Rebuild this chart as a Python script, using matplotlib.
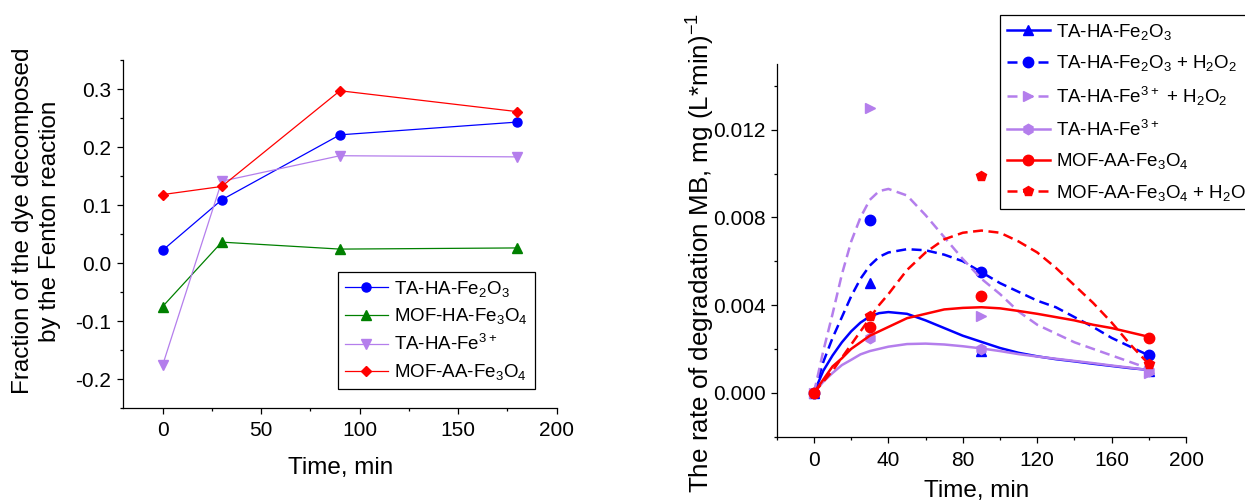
import matplotlib
matplotlib.use('Agg')
import matplotlib.pyplot as plt
from matplotlib.ticker import MultipleLocator, FormatStrFormatter
from matplotlib.lines import Line2D

plt.rcParams['font.family'] = ['Liberation Sans', 'DejaVu Sans']
plt.rcParams['mathtext.default'] = 'regular'
plt.rcParams['axes.unicode_minus'] = False

# ---- left panel data: fraction decomposed by Fenton reaction
time_left = [0, 30, 90, 180]
ta_ha_fe2o3 = [0.022, 0.109, 0.221, 0.243]
mof_ha_fe3o4 = [-0.075, 0.036, 0.024, 0.026]
ta_ha_fe3 = [-0.176, 0.141, 0.185, 0.183]
mof_aa_fe3o4 = [0.118, 0.132, 0.297, 0.261]

# ---- right panel data: measured rates
time_pts = [0, 30, 90, 180]
r_fe2o3 = [0.0, 0.0050, 0.0019, 0.0010]
r_fe2o3_h2o2 = [0.0, 0.0079, 0.0055, 0.0017]
r_fe3_h2o2 = [0.0, 0.0130, 0.0035, 0.0009]
r_fe3 = [0.0, 0.0025, 0.0020, 0.0010]
r_mof = [0.0, 0.0030, 0.0044, 0.0025]
r_mof_h2o2 = [0.0, 0.0035, 0.0099, 0.0013]

# fitted curves
time_fit = [0, 5, 10, 15, 20, 25, 30, 35, 40, 50, 60, 70, 80, 90,
            100, 110, 120, 130, 140, 150, 160, 170, 180]
fit_fe2o3 = [0, 0.0010, 0.0017, 0.0023, 0.0028, 0.0032, 0.00348, 0.00363, 0.00368,
             0.0036, 0.0033, 0.00295, 0.0026, 0.00232, 0.00204, 0.00182, 0.00166,
             0.00153, 0.00143, 0.00132, 0.00122, 0.00112, 0.00104]
fit_fe2o3_h2o2 = [0, 0.0014, 0.0025, 0.00345, 0.0044, 0.0052, 0.0058, 0.0062, 0.0064,
                  0.00655, 0.0065, 0.0063, 0.0060, 0.0055, 0.0050, 0.0046, 0.0042,
                  0.0039, 0.00345, 0.0030, 0.0025, 0.0021, 0.0017]
fit_fe3_h2o2 = [0, 0.0019, 0.0036, 0.0054, 0.0069, 0.0080, 0.0088, 0.0092, 0.0093,
                0.0090, 0.0081, 0.0071, 0.0061, 0.0052, 0.0045, 0.0037, 0.0031,
                0.0027, 0.0023, 0.0020, 0.0017, 0.0014, 0.0011]
fit_fe3 = [0, 0.0005, 0.0009, 0.00126, 0.0015, 0.00175, 0.0019, 0.0020, 0.0021,
           0.00222, 0.00224, 0.0022, 0.00212, 0.00202, 0.0019, 0.00176, 0.00165,
           0.00155, 0.00145, 0.00135, 0.00124, 0.00114, 0.00103]
fit_mof = [0, 0.0006, 0.0012, 0.00157, 0.0020, 0.0023, 0.0026, 0.0028, 0.0030,
           0.0034, 0.0036, 0.0038, 0.00387, 0.0039, 0.00385, 0.00373, 0.0036,
           0.00345, 0.0033, 0.0031, 0.00295, 0.00275, 0.00255]
fit_mof_h2o2 = [0, 0.0005, 0.0010, 0.0016, 0.0022, 0.0028, 0.0034, 0.0040, 0.0045,
                0.0056, 0.0064, 0.0070, 0.0073, 0.0074, 0.0073, 0.0069, 0.0064,
                0.0057, 0.0049, 0.0041, 0.0032, 0.0022, 0.0013]

BLUE = '#0000FF'
GREEN = '#008000'
VIOLET = '#B47EEC'
RED = '#FF0000'

fig = plt.figure(figsize=(12.45, 5.01), dpi=100)
ax1 = fig.add_axes([0.0990, 0.1856, 0.3481, 0.6946])
ax2 = fig.add_axes([0.6239, 0.1287, 0.3288, 0.7435])

for ax in (ax1, ax2):
    ax.spines['top'].set_visible(False)
    ax.spines['right'].set_visible(False)
    ax.spines['left'].set_linewidth(0.9)
    ax.spines['bottom'].set_linewidth(0.9)
    ax.tick_params(which='major', direction='out', length=4.5, width=0.9, labelsize=15)
    ax.tick_params(which='minor', direction='out', length=2.5, width=0.9)

# ---- left panel
ax1.plot(time_left, ta_ha_fe2o3, color=BLUE, marker='o', ms=6.5, lw=0.9, label='TA-HA-Fe$_2$O$_3$')
ax1.plot(time_left, mof_ha_fe3o4, color=GREEN, marker='^', ms=7, lw=0.9, label='MOF-HA-Fe$_3$O$_4$')
ax1.plot(time_left, ta_ha_fe3, color=VIOLET, marker='v', ms=7, lw=0.9, label='TA-HA-Fe$^{3+}$')
ax1.plot(time_left, mof_aa_fe3o4, color=RED, marker='D', ms=5.5, lw=0.9, label='MOF-AA-Fe$_3$O$_4$')

ax1.set_xlim(-20, 200)
ax1.set_ylim(-0.25, 0.35)
ax1.xaxis.set_major_locator(MultipleLocator(50))
ax1.xaxis.set_minor_locator(MultipleLocator(25))
ax1.yaxis.set_major_locator(MultipleLocator(0.1))
ax1.yaxis.set_minor_locator(MultipleLocator(0.05))
ax1.yaxis.set_major_formatter(FormatStrFormatter('%.1f'))
ax1.tick_params(axis='x', pad=5)
ax1.tick_params(axis='y', pad=4)

ax1.set_xlabel('Time, min', fontsize=17.5, va='center')
ax1.xaxis.set_label_coords(0.502, -0.172)
ax1.set_ylabel('Fraction of the dye decomposed\nby the Fenton reaction', fontsize=17.5,
               va='center', linespacing=1.3)
ax1.yaxis.set_label_coords(-0.201, 0.537)

leg1 = ax1.legend(loc='upper left', bbox_to_anchor=(338 / 1245, (501 - 272) / 501),
                  bbox_transform=fig.transFigure, fontsize=13.5, frameon=True,
                  fancybox=False, framealpha=1, edgecolor='black', borderpad=0.35,
                  labelspacing=0.42, handlelength=2.3, handletextpad=0.35,
                  borderaxespad=0)
leg1.get_frame().set_linewidth(0.9)

# ---- right panel
series = [
    ('TA-HA-Fe$_2$O$_3$', r_fe2o3, fit_fe2o3, BLUE, '-', '^'),
    ('TA-HA-Fe$_2$O$_3$ + H$_2$O$_2$', r_fe2o3_h2o2, fit_fe2o3_h2o2, BLUE, '--', 'o'),
    ('TA-HA-Fe$^{3+}$ + H$_2$O$_2$', r_fe3_h2o2, fit_fe3_h2o2, VIOLET, '--', '>'),
    ('TA-HA-Fe$^{3+}$', r_fe3, fit_fe3, VIOLET, '-', 'h'),
    ('MOF-AA-Fe$_3$O$_4$', r_mof, fit_mof, RED, '-', 'o'),
    ('MOF-AA-Fe$_3$O$_4$ + H$_2$O$_2$', r_mof_h2o2, fit_mof_h2o2, RED, '--', 'p'),
]

handles = []
for label, pts, fit, col, ls, mk in series:
    if ls == '--':
        ax2.plot(time_fit, fit, color=col, lw=1.8, dashes=(4, 2.2))
    else:
        ax2.plot(time_fit, fit, color=col, lw=1.8)
    ax2.plot(time_pts, pts, color=col, marker=mk, ms=7.5, ls='none')
    h = Line2D([], [], color=col, lw=1.8, marker=mk, ms=7.5)
    if ls == '--':
        h.set_dashes((4, 2.2))
    handles.append((h, label))

ax2.set_xlim(-20, 200)
ax2.set_ylim(-0.002, 0.015)
ax2.xaxis.set_major_locator(MultipleLocator(40))
ax2.xaxis.set_minor_locator(MultipleLocator(20))
ax2.yaxis.set_major_locator(MultipleLocator(0.004))
ax2.yaxis.set_minor_locator(MultipleLocator(0.002))
ax2.yaxis.set_major_formatter(FormatStrFormatter('%.3f'))
ax2.tick_params(axis='x', pad=6)
ax2.tick_params(axis='y', pad=3.5)

ax2.set_xlabel('Time, min', fontsize=17.5, va='center')
ax2.xaxis.set_label_coords(0.489, -0.147)
ax2.set_ylabel('The rate of degradation MB, mg (L*min)$^{-1}$', fontsize=18.7, va='center')
ax2.yaxis.set_label_coords(-0.186, 0.492)

leg2 = ax2.legend([h for h, _ in handles], [l for _, l in handles],
                  loc='upper left', bbox_to_anchor=(1000 / 1245, (501 - 15) / 501),
                  bbox_transform=fig.transFigure, fontsize=13.5, frameon=True,
                  fancybox=False, framealpha=1, edgecolor='black', borderpad=0.35,
                  labelspacing=0.62, handlelength=2.3, handletextpad=0.35,
                  borderaxespad=0)
leg2.get_frame().set_linewidth(0.9)

fig.savefig('out.png', dpi=100)
